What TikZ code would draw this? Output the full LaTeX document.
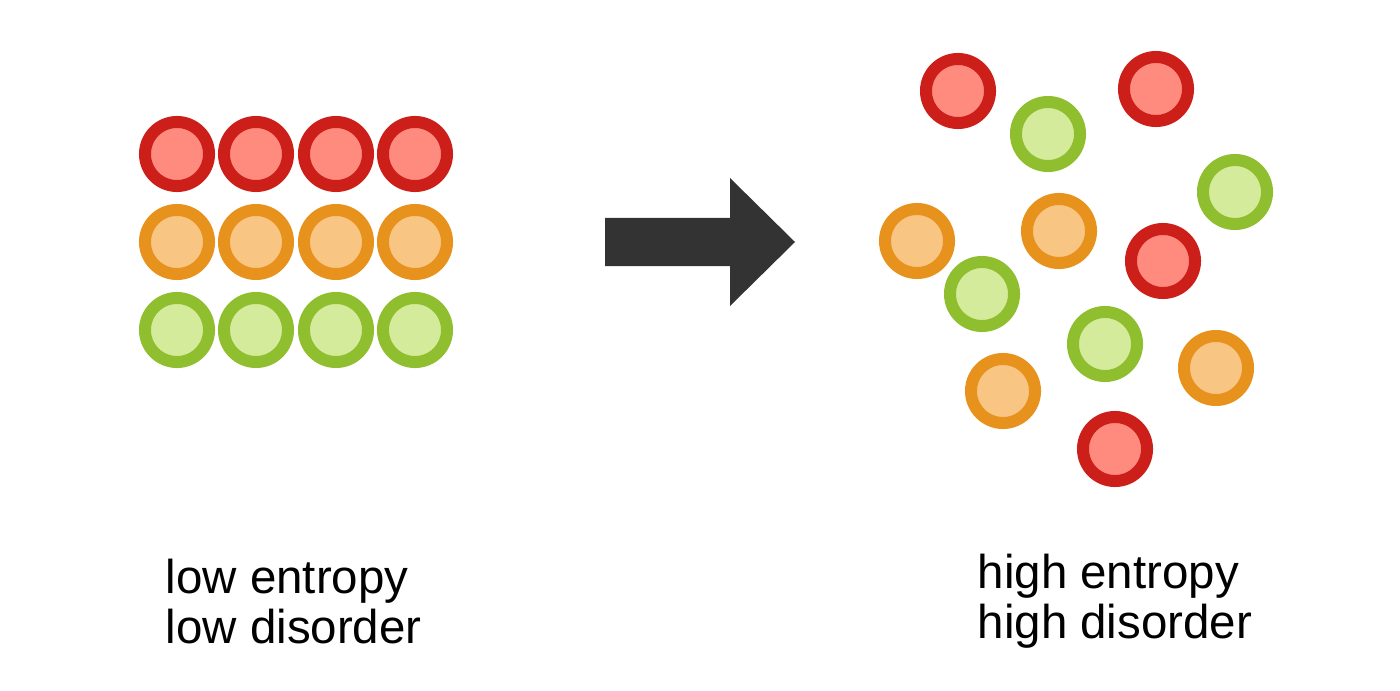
\documentclass[tikz,border=0pt]{standalone}
\usepackage{fontspec}
\setmainfont{Liberation Sans}
\usetikzlibrary{positioning}
\definecolor{redfill}{HTML}{FF8A7E}
\definecolor{redline}{HTML}{CC1F1A}
\definecolor{orangefill}{HTML}{F9C583}
\definecolor{orangeline}{HTML}{E8921E}
\definecolor{greenfill}{HTML}{D5EB9C}
\definecolor{greenline}{HTML}{8FBE2E}
\definecolor{arrowgray}{HTML}{333333}
\begin{document}
\begin{tikzpicture}
  [x=0.01cm,y=-0.01cm,
   ball/.style={circle,
                line width=1.2mm,
                minimum size=0.64cm,
                inner sep=0pt},
   red ball/.style={ball,draw=redline,fill=redfill},
   orange ball/.style={ball,draw=orangeline,fill=orangefill},
   green ball/.style={ball,draw=greenline,fill=greenfill},
   label text/.style={align=left,anchor=north west,inner sep=0pt,
                      font=\fontsize{13.5}{14.3}\selectfont}]
  \useasboundingbox (0,0) rectangle (1400,691);
  % ordered grid
  \foreach \x [count=\i] in {177,256,336,415} {
    \node[red ball]    (r\i) at (\x,154) {};
    \node[orange ball] (o\i) at (\x,242) {};
    \node[green ball]  (g\i) at (\x,330) {};
  }
  % arrow
  \fill[arrowgray] (605,218) -- (730,218) -- (730,178) -- (795,242)
     -- (730,306) -- (730,266) -- (605,266) -- cycle;
  % scattered balls
  \node[red ball]    (sr1) at (958,91) {};
  \node[red ball]    (sr2) at (1156,89) {};
  \node[red ball]    (sr3) at (1163,261) {};
  \node[red ball]    (sr4) at (1115,449) {};
  \node[green ball]  (sg1) at (1048,134) {};
  \node[green ball]  (sg2) at (1235,192) {};
  \node[green ball]  (sg3) at (982,294) {};
  \node[green ball]  (sg4) at (1105,344) {};
  \node[orange ball] (so1) at (917,241) {};
  \node[orange ball] (so2) at (1059,231) {};
  \node[orange ball] (so3) at (1216,368) {};
  \node[orange ball] (so4) at (1003,391) {};
  % captions
  \node[label text] (low)  at (165,558) {low entropy\\low disorder};
  \node[label text] (high) at (977,553) {high entropy\\high disorder};
\end{tikzpicture}
\end{document}
